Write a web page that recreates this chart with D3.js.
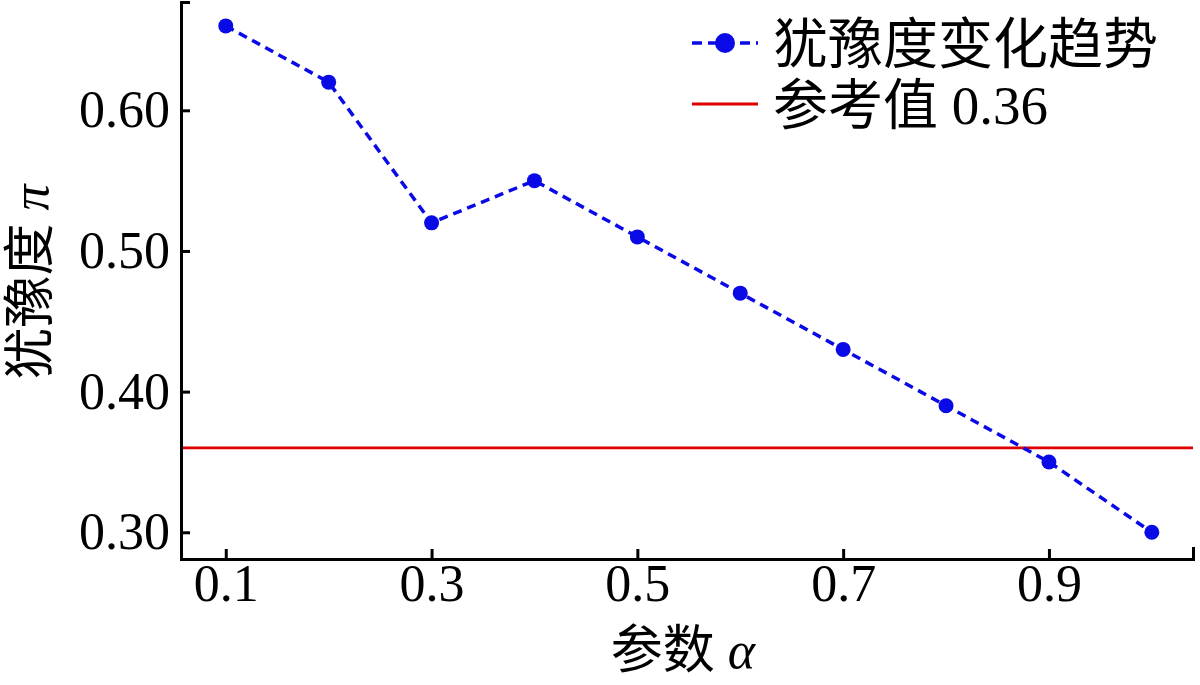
<!DOCTYPE html>
<html>
<head>
<meta charset="utf-8">
<script src="https://cdn.jsdelivr.net/npm/d3@7"></script>
<style>
  body { margin: 0; background: #fff; }
  svg { display: block; }
  .axis path, .axis line { stroke: #000; stroke-width: 3; }
  .axis text { font-family: "Liberation Serif", serif; font-size: 52px; fill: #000; }
</style>
</head>
<body>
<div id="chart"></div>
<script>
// data
var alphas = [0.1, 0.2, 0.3, 0.4, 0.5, 0.6, 0.7, 0.8, 0.9, 1.0];
var hesitation = [0.66, 0.62, 0.52, 0.55, 0.51, 0.47, 0.43, 0.39, 0.35, 0.30];
var reference = 0.36;
var xTicks = [0.1, 0.3, 0.5, 0.7, 0.9];
var yTicks = [0.30, 0.40, 0.50, 0.60];
var legendLabels = ["犹豫度变化趋势", "参考值 0.36"];

var margin = { top: 2, right: 7, bottom: 126, left: 181 },
  W = 1200, H = 685,
  width = W - margin.left - margin.right,
  height = H - margin.top - margin.bottom;

var svg = d3.select("#chart").append("svg")
  .attr("width", W)
  .attr("height", H);

var g = svg.append("g")
  .attr("transform", "translate(" + margin.left + "," + margin.top + ")");

var x = d3.scaleLinear()
  .domain([0.0565, 1.04])
  .range([0, width]);

var y = d3.scaleLinear()
  .domain([0.281, 0.677])
  .range([height, 0]);

// reference line
g.append("line")
  .attr("x1", 0)
  .attr("x2", width)
  .attr("y1", y(reference))
  .attr("y2", y(reference))
  .attr("stroke", "#e00000")
  .attr("stroke-width", 2.8);

// trend line
var pts = alphas.map(function(a, i) { return [a, hesitation[i]]; });
var line = d3.line()
  .x(function(d) { return x(d[0]); })
  .y(function(d) { return y(d[1]); });

g.append("path")
  .datum(pts)
  .attr("d", line)
  .attr("fill", "none")
  .attr("stroke", "#0a0ae6")
  .attr("stroke-width", 3.5)
  .attr("stroke-dasharray", "9,6");

g.selectAll(".dot")
  .data(pts)
  .enter().append("circle")
  .attr("class", "dot")
  .attr("cx", function(d) { return x(d[0]); })
  .attr("cy", function(d) { return y(d[1]); })
  .attr("r", 7.5)
  .attr("fill", "#0a0ae6");

// axes, ticks pointing inward
g.append("g")
  .attr("class", "axis")
  .attr("transform", "translate(0," + height + ")")
  .call(d3.axisBottom(x)
    .tickValues(xTicks)
    .tickFormat(d3.format(".1f"))
    .tickSize(-10)
    .tickSizeOuter(-12)
    .tickPadding(5));

g.append("g")
  .attr("class", "axis")
  .call(d3.axisLeft(y)
    .tickValues(yTicks)
    .tickFormat(d3.format(".2f"))
    .tickSize(-9)
    .tickSizeOuter(-9)
    .tickPadding(11));

// axis titles
svg.append("text")
  .attr("x", 683)
  .attr("y", 668)
  .attr("text-anchor", "middle")
  .style("font-family", "'Liberation Serif', 'Noto Sans CJK SC', serif")
  .style("font-size", "52px")
  .html('参数 <tspan font-style="italic">α</tspan>');

svg.append("text")
  .attr("transform", "translate(48,282) rotate(-90)")
  .attr("text-anchor", "middle")
  .style("font-family", "'Liberation Serif', 'Noto Sans CJK SC', serif")
  .style("font-size", "52px")
  .html('犹豫度 <tspan font-style="italic">π</tspan>');

// legend
var lg = svg.append("g");
lg.append("line")
  .attr("x1", 692).attr("x2", 758)
  .attr("y1", 43).attr("y2", 43)
  .attr("stroke", "#0a0ae6")
  .attr("stroke-width", 3.5)
  .attr("stroke-dasharray", "10,6");
lg.append("circle")
  .attr("cx", 725).attr("cy", 43).attr("r", 10)
  .attr("fill", "#0a0ae6");
lg.append("line")
  .attr("x1", 692).attr("x2", 758)
  .attr("y1", 104).attr("y2", 104)
  .attr("stroke", "#e00000")
  .attr("stroke-width", 2.8);

lg.selectAll(".lt")
  .data(legendLabels)
  .enter().append("text")
  .attr("class", "lt")
  .attr("x", 773)
  .attr("y", function(d, i) { return 43 + i * 61; })
  .attr("dy", "0.36em")
  .style("font-family", "'Liberation Serif', 'Noto Sans CJK SC', serif")
  .style("font-size", "55px")
  .text(function(d) { return d; });
</script>
</body>
</html>
